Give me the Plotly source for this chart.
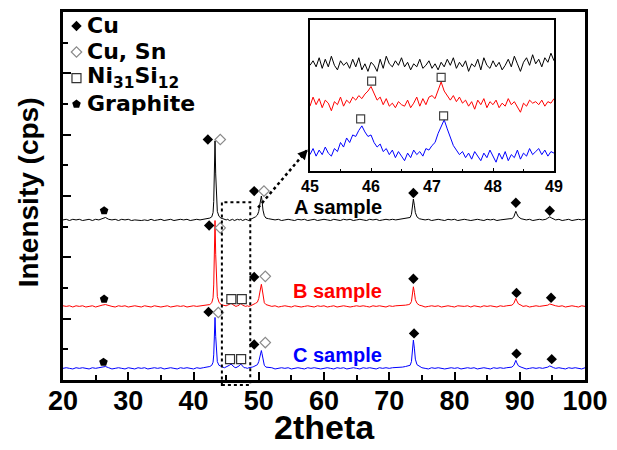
import numpy as np
import plotly.graph_objects as go

FONT = "Liberation Sans, Arial, sans-serif"
WIDE = "DejaVu Sans, Liberation Sans, sans-serif"

# ---------------- main pattern data (2theta, intensity above each baseline) -------------
X_MAIN = (
    [20.0, 20.5, 21.0, 21.5, 22.0, 22.5, 23.0, 23.5, 24.0, 24.5,
     25.0, 25.5, 26.0, 26.5, 27.0, 27.5, 28.0, 28.5, 29.0, 29.5,
     30.0, 30.5, 31.0, 31.5, 32.0, 32.5, 33.0, 33.5, 34.0, 34.5,
     35.0, 35.5, 36.0, 36.5, 37.0, 37.5, 38.0, 38.5, 39.0, 39.5,
     40.0, 40.5, 41.0, 41.5, 42.0, 42.5]
    + [42.8, 43.0, 43.1, 43.2, 43.3, 43.4, 43.5, 43.65, 43.9, 44.2]
    + [44.5, 44.75, 45.0, 45.25, 45.5, 45.75, 46.0, 46.25, 46.5, 46.75,
       47.0, 47.25, 47.5, 47.75, 48.0, 48.25, 48.5, 48.75, 49.0, 49.25, 49.5]
    + [49.8, 50.0, 50.15, 50.3, 50.4, 50.5, 50.65, 50.85, 51.1]
    + [51.5, 52.0, 52.5, 53.0, 53.5, 54.0, 54.5, 55.0, 55.5, 56.0,
       56.5, 57.0, 57.5, 58.0, 58.5, 59.0, 59.5, 60.0, 60.5, 61.0,
       61.5, 62.0, 62.5, 63.0, 63.5, 64.0, 64.5, 65.0, 65.5, 66.0,
       66.5, 67.0, 67.5, 68.0, 68.5, 69.0, 69.5, 70.0, 70.5, 71.0,
       71.5, 72.0, 72.5, 73.0]
    + [73.2, 73.4, 73.55, 73.7, 73.85, 74.0, 74.25, 74.6]
    + [75.0, 75.5, 76.0, 76.5, 77.0, 77.5, 78.0, 78.5, 79.0, 79.5,
       80.0, 80.5, 81.0, 81.5, 82.0, 82.5, 83.0, 83.5, 84.0, 84.5,
       85.0, 85.5, 86.0, 86.5, 87.0, 87.5, 88.0, 88.5]
    + [88.8, 89.1, 89.25, 89.4, 89.55, 89.8, 90.2]
    + [90.5, 91.0, 91.5, 92.0, 92.5, 93.0, 93.5, 94.0]
    + [94.3, 94.6, 94.9, 95.2]
    + [95.5, 96.0, 96.5, 97.0, 97.5, 98.0, 98.5, 99.0, 99.5, 100.0]
)

A_REL = (
    [0.00, 0.01, -0.01, 0.01, 0.00, 0.01, -0.01, 0.00, 0.01, -0.01,
     0.01, 0.00, 0.02, 0.04, 0.01, 0.00, 0.01, -0.01, 0.01, 0.00,
     0.01, -0.01, 0.00, -0.01, -0.01, 0.00, -0.01, 0.01, -0.01, 0.00,
     0.01, -0.01, 0.00, 0.01, -0.01, 0.00, 0.01, 0.00, 0.01, -0.01,
     0.00, 0.01, 0.00, 0.01, 0.02, 0.03]
    + [0.05, 0.12, 0.30, 0.85, 1.29, 0.75, 0.30, 0.14, 0.06, 0.03]
    + [0.02, 0.01, 0.00, 0.01, -0.01, 0.00, 0.01, -0.01, 0.00, 0.01,
       0.00, 0.01, -0.01, 0.00, 0.01, 0.00, -0.01, 0.01, 0.02, 0.03, 0.05]
    + [0.08, 0.14, 0.24, 0.36, 0.39, 0.32, 0.16, 0.07, 0.03]
    + [0.02, 0.01, 0.00, 0.01, -0.01, 0.00, 0.01, 0.00, -0.01, 0.01,
       0.00, 0.01, -0.01, 0.00, 0.01, -0.01, 0.00, 0.01, 0.00, -0.01,
       0.01, 0.00, -0.01, 0.01, 0.00, 0.01, -0.01, 0.00, 0.01, 0.00,
       -0.01, 0.01, 0.00, 0.01, -0.01, 0.00, 0.01, 0.00, 0.01, 0.00,
       0.01, 0.01, 0.02, 0.03]
    + [0.04, 0.09, 0.20, 0.34, 0.24, 0.12, 0.05, 0.02]
    + [0.01, 0.00, 0.01, -0.01, 0.00, 0.01, 0.00, -0.01, 0.01, 0.00,
       0.01, -0.01, 0.00, 0.01, 0.00, -0.01, 0.00, 0.01, 0.00, -0.01,
       0.01, 0.00, 0.01, -0.01, 0.00, 0.01, 0.01, 0.02]
    + [0.02, 0.05, 0.10, 0.14, 0.10, 0.05, 0.02]
    + [0.01, 0.00, 0.01, -0.01, 0.00, 0.01, 0.00, 0.01]
    + [0.03, 0.05, 0.03, 0.01]
    + [0.00, 0.01, -0.01, 0.00, 0.01, -0.01, 0.00, 0.01, 0.00, 0.01]
)

B_REL = (
    [0.01, 0.00, 0.01, -0.01, 0.01, 0.00, 0.01, -0.01, 0.00, 0.01,
     -0.01, 0.01, 0.02, 0.03, 0.01, 0.00, -0.01, 0.01, 0.00, 0.01,
     -0.01, 0.00, 0.01, 0.00, -0.01, 0.01, 0.00, -0.01, 0.01, 0.00,
     -0.01, 0.00, 0.01, -0.01, 0.00, 0.01, 0.00, 0.01, -0.01, 0.00,
     0.01, 0.00, 0.01, 0.01, 0.02, 0.03]
    + [0.06, 0.14, 0.35, 0.95, 1.40, 0.85, 0.35, 0.16, 0.07, 0.03]
    + [0.02, 0.01, 0.01, 0.02, 0.03, 0.05, 0.03, 0.01, 0.00, 0.01,
       0.02, 0.05, 0.02, 0.01, 0.00, 0.01, 0.00, 0.01, 0.02, 0.03, 0.05]
    + [0.07, 0.13, 0.22, 0.33, 0.36, 0.30, 0.15, 0.06, 0.03]
    + [0.02, 0.00, 0.01, -0.01, 0.00, 0.01, 0.00, -0.01, 0.01, 0.00,
       -0.01, 0.00, 0.01, 0.00, -0.01, 0.01, 0.00, 0.01, -0.01, 0.00,
       0.01, -0.01, 0.00, 0.01, 0.00, -0.01, 0.00, 0.01, 0.00, 0.01,
       0.00, -0.01, 0.01, 0.00, 0.01, 0.00, -0.01, 0.01, 0.00, 0.01,
       0.01, 0.02, 0.02, 0.03]
    + [0.04, 0.08, 0.19, 0.32, 0.23, 0.11, 0.05, 0.02]
    + [0.01, -0.01, 0.00, 0.01, 0.00, 0.01, -0.01, 0.00, 0.01, 0.00,
       -0.01, 0.01, 0.00, 0.00, 0.01, -0.01, 0.01, 0.00, -0.01, 0.01,
       0.00, 0.01, 0.00, -0.01, 0.01, 0.00, 0.01, 0.02]
    + [0.02, 0.05, 0.09, 0.13, 0.09, 0.04, 0.02]
    + [0.00, 0.01, -0.01, 0.00, 0.01, 0.00, 0.01, 0.01]
    + [0.02, 0.04, 0.03, 0.01]
    + [0.01, 0.00, 0.01, -0.01, 0.00, 0.01, 0.00, -0.01, 0.01, 0.00]
)

C_REL = (
    [0.00, 0.01, 0.00, -0.01, 0.01, 0.00, 0.01, 0.00, -0.01, 0.01,
     0.00, 0.01, 0.02, 0.03, 0.01, -0.01, 0.00, 0.01, 0.00, -0.01,
     0.01, 0.00, -0.01, 0.01, 0.00, 0.01, -0.01, 0.00, 0.01, 0.00,
     0.01, -0.01, 0.00, 0.01, 0.00, -0.01, 0.01, 0.00, 0.01, 0.00,
     -0.01, 0.01, 0.00, 0.01, 0.02, 0.03]
    + [0.05, 0.10, 0.22, 0.58, 0.83, 0.52, 0.22, 0.11, 0.05, 0.03]
    + [0.02, 0.01, 0.02, 0.03, 0.05, 0.07, 0.04, 0.02, 0.01, 0.02,
       0.04, 0.07, 0.03, 0.01, 0.01, 0.00, 0.01, 0.01, 0.02, 0.03, 0.05]
    + [0.06, 0.11, 0.18, 0.27, 0.29, 0.24, 0.12, 0.05, 0.02]
    + [0.02, 0.01, -0.01, 0.00, 0.01, 0.00, 0.01, -0.01, 0.00, 0.01,
       0.00, -0.01, 0.01, 0.00, 0.01, 0.00, -0.01, 0.00, 0.01, 0.00,
       -0.01, 0.01, 0.00, 0.01, -0.01, 0.00, 0.01, 0.00, -0.01, 0.01,
       0.00, 0.01, 0.00, -0.01, 0.01, 0.00, 0.01, 0.00, 0.01, 0.01,
       0.02, 0.02, 0.03, 0.04]
    + [0.05, 0.11, 0.27, 0.46, 0.33, 0.15, 0.06, 0.03]
    + [0.01, 0.00, -0.01, 0.01, 0.00, 0.01, 0.00, -0.01, 0.00, 0.01,
       0.00, 0.01, -0.01, 0.00, 0.01, 0.00, 0.01, -0.01, 0.00, 0.01,
       0.00, -0.01, 0.01, 0.00, 0.01, 0.00, 0.01, 0.02]
    + [0.02, 0.05, 0.09, 0.13, 0.09, 0.04, 0.02]
    + [0.01, -0.01, 0.00, 0.01, 0.00, 0.01, 0.00, 0.01]
    + [0.02, 0.04, 0.02, 0.01]
    + [0.00, 0.01, 0.00, -0.01, 0.01, 0.00, 0.01, 0.00, -0.01, 0.01]
)

SAMPLES = ["A sample", "B sample", "C sample"]
OFFSETS = [2.61, 1.20, 0.19]
COLORS = ["#000000", "#FF0000", "#0000FF"]
LABEL_X = [62.2, 62.0, 62.0]
LABEL_Y = [2.82, 1.45, 0.40]

# ---------------- phase markers (main plot) ----------------
PHASES = ["Cu", "Cu, Sn", "Ni<sub>31</sub>Si<sub>12</sub>", "Graphite"]
CU_X = [42.2, 49.3, 73.7, 89.4, 94.6,
        42.4, 49.3, 73.7, 89.5, 94.8,
        42.3, 49.3, 73.8, 89.5, 94.9]
CU_Y = [3.92, 3.08, 3.05, 2.89, 2.76,
        2.52, 1.68, 1.65, 1.42, 1.34,
        1.11, 0.58, 0.76, 0.43, 0.34]
CUSN_X = [44.1, 50.8, 44.1, 51.0, 43.8, 51.0]
CUSN_Y = [3.92, 3.08, 2.48, 1.69, 1.10, 0.61]
NISI_X = [45.8, 47.4, 45.6, 47.3]
NISI_Y = [1.32, 1.32, 0.34, 0.34]
GRAPH_X = [26.3, 26.3, 26.2]
GRAPH_Y = [2.76, 1.32, 0.29]

# ---------------- inset (45-49 deg) ----------------
X_INSET = np.round(np.linspace(45.0, 49.0, 81), 2)
INSET_A = [7.0, 7.3, 6.9, 7.5, 6.8, 7.4, 6.9, 7.6, 7.0, 6.7, 7.3, 7.0, 7.2, 6.8, 7.4, 6.9, 7.5, 6.7, 7.1, 6.6,
           7.2, 7.0, 6.6, 7.4, 6.8, 7.6, 7.1, 6.9, 7.3, 7.0, 7.5, 6.9, 7.2, 6.7, 7.1, 6.9, 7.4, 6.8, 7.0, 7.3,
           6.8, 7.1, 6.7, 7.2, 6.9, 7.4, 7.0, 7.5, 6.8, 7.2, 6.9, 7.3, 6.6, 7.1, 6.9, 7.4, 6.7, 7.5, 7.0, 6.8,
           7.3, 6.9, 7.2, 6.7, 7.0, 7.4, 6.9, 7.6, 7.1, 6.6, 7.2, 7.5, 7.0, 7.7, 7.1, 7.4, 6.9, 7.5, 7.2, 7.8,
           7.3]
INSET_B = [4.3, 4.9, 4.4, 4.8, 4.2, 4.7, 4.5, 4.0, 4.6, 4.4, 4.9, 4.3, 4.7, 4.5, 4.9, 4.7, 5.0, 4.8, 5.1, 5.3,
           5.6, 5.1, 4.7, 4.9, 4.4, 4.8, 4.3, 4.5, 4.2, 4.6, 4.4, 4.3, 4.7, 4.2, 4.5, 4.9, 4.3, 4.8, 4.4, 4.9,
           5.0, 4.8, 5.4, 5.9, 5.3, 5.0, 4.7, 5.0, 4.6, 4.9, 4.5, 4.7, 4.3, 4.6, 4.1, 4.7, 4.4, 4.8, 4.2, 4.6,
           4.4, 4.7, 4.2, 4.5, 4.3, 4.8, 4.4, 4.6, 4.2, 3.9, 4.5, 4.3, 4.7, 4.5, 4.6, 4.4, 4.7, 4.3, 4.6, 4.5,
           4.8]
INSET_C = [1.1, 1.5, 1.0, 1.4, 1.1, 1.6, 1.2, 1.0, 1.5, 1.3, 1.9, 1.6, 2.2, 1.9, 2.4, 2.3, 2.7, 3.0, 2.6, 2.3,
           2.4, 1.9, 1.6, 1.8, 1.3, 1.5, 1.1, 1.4, 0.9, 1.3, 1.0, 0.7, 1.2, 0.9, 1.4, 1.1, 1.3, 1.0, 1.5, 1.4,
           1.7, 1.9, 2.5, 3.0, 3.4, 2.8, 2.2, 1.7, 1.4, 1.1, 1.3, 0.9, 1.2, 0.8, 1.3, 1.0, 0.7, 1.2, 0.9, 1.4,
           1.0, 0.6, 1.2, 0.8, 1.3, 0.7, 1.1, 0.9, 1.4, 0.8, 1.2, 1.0, 1.5, 1.1, 1.3, 1.5, 1.1, 1.4, 1.0, 1.3,
           1.2]
INSET_SQ_X = [46.01, 47.15, 45.83, 47.19]
INSET_SQ_Y = [5.95, 6.20, 3.46, 3.66]

X_RANGE = [20, 100]
Y_RANGE = [0, 6]
BOX = dict(x0=44.35, x1=48.7, y0=-0.08, y1=2.90)
ARROW = dict(x0=49.9, y0=2.81, x1=57.5, y1=3.76)

assert len(X_MAIN) == len(A_REL) == len(B_REL) == len(C_REL)

fig = go.Figure()

rels = [A_REL, B_REL, C_REL]
for rel, off, col, name in zip(rels, OFFSETS, COLORS, SAMPLES):
    fig.add_trace(go.Scatter(x=X_MAIN, y=[v + off for v in rel], mode="lines",
                             line=dict(color=col, width=1), showlegend=False,
                             hoverinfo="skip", name=name))

for ys, col in zip([INSET_A, INSET_B, INSET_C], COLORS):
    fig.add_trace(go.Scatter(x=X_INSET, y=ys, mode="lines", xaxis="x2", yaxis="y2",
                             line=dict(color=col, width=1), showlegend=False, hoverinfo="skip"))

# phase markers; the legend draws only their symbols, the labels are placed beside them
fig.add_trace(go.Scatter(x=CU_X, y=CU_Y, mode="markers", name="",
                         marker=dict(symbol="diamond", size=8, color="black")))
fig.add_trace(go.Scatter(x=CUSN_X, y=CUSN_Y, mode="markers", name="",
                         marker=dict(symbol="diamond-open", size=8, color="#8a8a8a",
                                     line=dict(width=1.2, color="#8a8a8a"))))
fig.add_trace(go.Scatter(x=NISI_X, y=NISI_Y, mode="markers", name="",
                         marker=dict(symbol="square-open", size=9, color="#333333",
                                     line=dict(width=1.2, color="#333333"))))
fig.add_trace(go.Scatter(x=GRAPH_X, y=GRAPH_Y, mode="markers", name="",
                         marker=dict(symbol="pentagon", size=9, color="black")))
fig.add_trace(go.Scatter(x=INSET_SQ_X, y=INSET_SQ_Y, mode="markers", xaxis="x2", yaxis="y2",
                         showlegend=False,
                         marker=dict(symbol="square-open", size=8, color="#444444",
                                     line=dict(width=1.2, color="#444444"))))

# legend labels (next to the legend symbols)
LEG_TOP_PX = 22
LEG_STEP_PX = 26
for i, lab in enumerate(PHASES):
    ypx = LEG_TOP_PX + i * LEG_STEP_PX
    fig.add_annotation(xref="paper", yref="paper", x=(85 - 63) / 522, y=(380 - ypx) / 372,
                       text="<b>%s</b>" % lab, showarrow=False, xanchor="left", yanchor="middle",
                       font=dict(family=WIDE, size=22, color="black"))

for name, col, lx, ly in zip(SAMPLES, COLORS, LABEL_X, LABEL_Y):
    fig.add_annotation(x=lx, y=ly, text="<b>%s</b>" % name, showarrow=False,
                       font=dict(family=FONT, size=20, color=col), xanchor="center", yanchor="middle")

def px(v):
    return (v - X_RANGE[0]) / (X_RANGE[1] - X_RANGE[0])

def py(v):
    return (v - Y_RANGE[0]) / (Y_RANGE[1] - Y_RANGE[0])

fig.add_shape(type="rect", xref="paper", yref="paper",
              x0=px(BOX["x0"]), x1=px(BOX["x1"]), y0=py(BOX["y0"]), y1=py(BOX["y1"]),
              line=dict(color="black", width=2, dash="dot"), fillcolor="rgba(0,0,0,0)")
fig.add_shape(type="line", xref="paper", yref="paper",
              x0=px(ARROW["x0"]), y0=py(ARROW["y0"]), x1=px(ARROW["x1"]), y1=py(ARROW["y1"]),
              line=dict(color="black", width=2.5, dash="dot"))
fig.add_annotation(xref="paper", yref="paper", x=px(ARROW["x1"]), y=py(ARROW["y1"]),
                   ax=-7, ay=8, text="", showarrow=True, arrowhead=2, arrowsize=1,
                   arrowwidth=2, arrowcolor="black")

# axis titles
fig.add_annotation(xref="paper", yref="paper", x=0.5, y=-0.1855, text="<b>2theta</b>",
                   showarrow=False, font=dict(family=FONT, size=34, color="black"),
                   xanchor="center", yanchor="bottom")
fig.add_annotation(xref="paper", yref="paper", x=-0.067, y=0.51, text="<b>Intensity (cps)</b>",
                   showarrow=False, textangle=-90, font=dict(family=FONT, size=28, color="black"),
                   xanchor="center", yanchor="middle")

fig.update_layout(
    width=617, height=450,
    margin=dict(l=63, r=32, t=8, b=70),
    paper_bgcolor="white", plot_bgcolor="white",
    font=dict(family=FONT, color="black"),
    showlegend=True,
    legend=dict(x=-0.0125, y=1.0108, xanchor="left", yanchor="top", bgcolor="rgba(0,0,0,0)",
                font=dict(family=WIDE, size=17.7, color="black"), tracegroupgap=0,
                itemwidth=30),
    xaxis=dict(range=X_RANGE, showgrid=False, zeroline=False, showline=True, linecolor="black",
               linewidth=2.5, mirror=True, ticks="inside", ticklen=8, tickwidth=2, dtick=10,
               tick0=20, tickcolor="black", automargin=False, ticklabelstandoff=-5,
               minor=dict(ticks="inside", ticklen=5, tickwidth=2, dtick=5, tickcolor="black"),
               tickfont=dict(family=FONT, size=27, color="black", weight="bold")),
    yaxis=dict(range=Y_RANGE, showgrid=False, zeroline=False, showline=True, linecolor="black",
               linewidth=2.5, mirror=True, ticks="inside", ticklen=8, tickwidth=2, dtick=1,
               tickcolor="black", showticklabels=False, automargin=False,
               minor=dict(ticks="inside", ticklen=5, tickwidth=2, dtick=0.5, tickcolor="black")),
    xaxis2=dict(domain=[0.4732, 0.9406], anchor="y2", range=[45, 49], showgrid=False,
                zeroline=False, showline=True, linecolor="black", linewidth=1.5, mirror=True,
                ticks="inside", ticklen=4, tickwidth=1, dtick=1, tickcolor="black",
                minor=dict(ticks="inside", ticklen=3, tickwidth=1, dtick=0.5, tickcolor="black"),
                tickfont=dict(family=FONT, size=16, color="black", weight="bold")),
    yaxis2=dict(domain=[0.5672, 0.9785], anchor="x2", range=[0, 10], showgrid=False,
                zeroline=False, showline=True, linecolor="black", linewidth=1.5, mirror=True,
                showticklabels=False, ticks=""),
)

fig.write_html("out.html", config={"displayModeBar": False},
               post_script="document.body.style.margin='0px';document.body.style.padding='0px';")
